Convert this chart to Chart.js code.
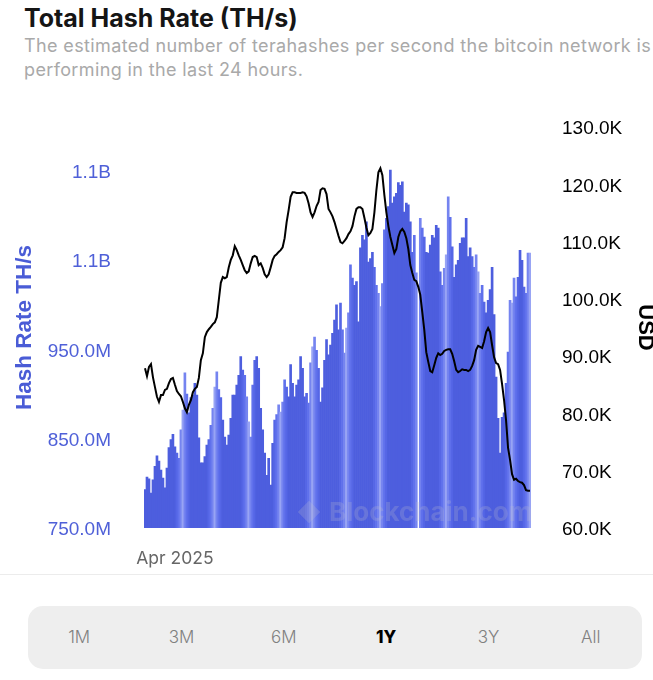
<!DOCTYPE html>
<html lang="en">
  <head>
    <meta charset="UTF-8">
    <title>Total Hash Rate</title>
    <script src="https://cdn.jsdelivr.net/npm/chart.js@4"></script>
    <style>
      html, body { margin: 0; padding: 0; background: #fff; overflow: hidden; }
      body { width: 653px; height: 680px; position: relative; font-family: Inter, sans-serif; }
      h1 { position: absolute; left: 24px; top: 3px; margin: 0; font-size: 25px; line-height: 30px; font-weight: 700; color: #151515; white-space: nowrap; }
      .sub { position: absolute; left: 24px; top: 34px; margin: 0; font-size: 18px; line-height: 24px; letter-spacing: 0.37px; color: #a9a9a9; white-space: nowrap; }
      #wrap { position: absolute; left: 0; top: 100px; width: 653px; height: 470px; }
      .mark { position: absolute; left: 295px; top: 496px; display: flex; align-items: center; font-size: 26px; font-weight: 700; color: rgba(190,190,205,0.24); }
      .rule { position: absolute; left: 0; top: 574px; width: 653px; height: 1px; background: #ececec; }
      .range { position: absolute; left: 28px; top: 606px; width: 614px; height: 63px; border-radius: 15px; background: #eeeeee; display: flex; }
      .range span { flex: 1; text-align: center; line-height: 63px; font-size: 17px; font-weight: 300; color: #808080; }
      .range span.on { color: #000; font-weight: 800; }
    </style>
  </head>
  <body>
    <h1>Total Hash Rate (TH/s)</h1>
    <p class="sub">The estimated number of terahashes per second the bitcoin network is<br>performing in the last 24 hours.</p>
    <div id="wrap"><canvas id="myChart" width="653" height="470"></canvas></div>
    <div class="mark">
      <svg width="28" height="30" viewBox="0 0 30 30" style="margin-right:6px"><path d="M15 3 L27 15 L15 27 L3 15 Z" fill="rgba(190,190,205,0.24)"/></svg>Blockchain.com
    </div>
    <div class="rule"></div>
    <div class="range" id="range"></div>

    <script>
      const hashRate = [
        793,807,805,789,804,819,831,825,815,806,
        795,817,840,849,855,841,834,828,860,882,
        924,900,879,896,899,912,899,851,823,823,
        830,843,849,865,884,908,925,905,896,871,
        852,843,854,873,899,899,910,921,942,927,
        921,897,869,852,910,938,942,929,884,860,
        834,809,828,798,845,871,877,888,880,891,
        916,908,897,933,912,897,910,916,942,929,
        897,901,890,935,953,964,949,929,891,907,
        938,961,944,955,968,983,1000,972,1002,972,
        946,974,991,1045,1030,1022,1026,981,1064,1078,
        1073,1093,1048,1052,1059,1042,1022,1013,998,1024,
        1084,1097,1110,1151,1114,1121,1125,1137,1134,1138,
        1104,1114,1112,1093,1059,1078,1036,null,1097,1086,
        1076,1059,1058,1067,1078,1075,1089,1086,1037,1022,
        1041,1056,1121,1098,1065,1031,1045,1050,1069,1075,
        1075,1097,1054,1064,1054,1042,1056,1037,1013,1022,
        1003,991,1005,1017,1042,989,919,873,834,874,
        879,912,947,1005,1002,1030,1009,1031,1061,1050,
        1020,1013,1058,1058
      ];
      const btcPrice = [
        87.9,86.5,88.1,88.6,86.3,84.6,82.9,82.0,83.2,83.2,
        84.1,84.3,85.3,86.0,86.2,85.0,83.9,83.4,83.0,82.0,
        80.9,80.2,81.5,82.3,83.7,84.3,84.6,86.2,89.3,90.5,
        93.3,94.2,94.7,95.1,95.6,95.9,96.8,99.8,102.8,103.8,
        103.6,103.8,105.5,106.8,107.6,109.2,108.5,107.6,106.8,105.9,
        105.0,104.5,104.8,106.2,107.3,107.5,107.3,105.9,106.2,105.4,
        104.3,103.8,104.3,105.5,106.8,107.5,107.8,108.2,108.5,109.0,
        110.6,113.4,115.5,117.8,118.6,118.6,118.5,118.5,118.5,118.6,
        118.5,117.9,116.7,115.1,114.3,115.1,116.2,116.9,119.0,119.3,
        119.2,118.3,115.7,115.1,114.4,113.4,112.2,111.0,109.9,109.7,
        110.1,110.6,111.3,111.8,112.7,114.4,115.7,116.0,116.0,115.7,
        114.1,112.4,111.1,111.5,112.2,115.1,119.0,122.1,122.8,121.6,
        118.1,115.1,112.7,110.8,109.4,108.0,108.7,110.8,111.8,112.2,
        111.7,110.6,108.7,105.9,104.5,103.3,103.1,102.1,100.7,97.7,
        94.6,90.7,89.0,87.4,87.2,88.4,89.7,90.5,90.2,90.4,
        90.9,91.1,91.2,91.2,90.4,89.1,87.6,87.2,87.4,87.7,
        87.6,87.6,87.4,87.6,88.3,89.3,91.1,91.8,91.6,91.4,
        92.6,94.2,94.9,94.2,91.9,89.8,88.8,88.6,87.6,85.1,
        82.3,78.8,74.0,71.9,69.4,68.4,68.6,68.2,68.0,67.9,
        67.5,66.6,66.5,66.5
      ];
      const hashTicks = [750, 850, 950, 1050, 1150];
      const priceTicks = [60, 70, 80, 90, 100, 110, 120, 130];
      const monthTicks = { 15: 'Apr 2025' };
      // lighter stripes where the bars change month, the bars fade towards them
      const lightBars = [19, 35, 52, 68, 84, 101, 118, 137, 151, 167, 184, 193];
      const fadeColors = ['#98a4f4', '#7584f0', '#6071ec', '#5566e6'];
      const ranges = ['1M', '3M', '6M', '1Y', '3Y', 'All'];
      const activeRange = '1Y';

      const categories = hashRate.map((v, i) => monthTicks[i] || '');
      const barColors = hashRate.map((v, i) => {
        const dist = Math.min(...lightBars.map(b => Math.abs(b - i)));
        return fadeColors[dist] || '#4d5ede';
      });

      ranges.forEach(r => {
        const s = document.createElement('span');
        s.textContent = r;
        if (r === activeRange) s.className = 'on';
        document.getElementById('range').appendChild(s);
      });

      const axisFont = { family: '"Liberation Sans", sans-serif', size: 19 };

      // tick padding also pads the top and bottom of a y axis, take that off again
      function fitY(scale, width) {
        scale.width = width;
        scale.paddingTop = 0;
        scale.paddingBottom = 0;
      }

      const ctx = document.getElementById('myChart').getContext('2d');
      new Chart(ctx, {
        data: {
          labels: categories,
          datasets: [
            {
              type: 'line',
              data: btcPrice,
              yAxisID: 'yPrice',
              borderColor: '#000',
              borderWidth: 2,
              pointRadius: 0,
              tension: 0,
              order: 1
            },
            {
              type: 'bar',
              data: hashRate,
              yAxisID: 'yHash',
              backgroundColor: barColors,
              barPercentage: 1,
              categoryPercentage: 1,
              order: 2
            }
          ]
        },
        options: {
          responsive: false,
          animation: false,
          layout: { padding: { top: 27 } },
          plugins: { legend: { display: false }, tooltip: { enabled: false } },
          scales: {
            x: {
              grid: { display: false, drawTicks: false },
              border: { display: false },
              afterFit: s => { s.height = 42; },
              ticks: { autoSkip: false, maxRotation: 0, padding: 20, color: '#666', font: { family: 'Inter, sans-serif', size: 17.5 } }
            },
            yHash: {
              position: 'left',
              min: 750,
              max: 1199.3,
              grid: { display: false, drawTicks: false },
              border: { display: false },
              afterFit: s => fitY(s, 144),
              afterBuildTicks: s => { s.ticks = hashTicks.map(v => ({ value: v })); },
              ticks: {
                padding: 33,
                labelOffset: 2,
                color: '#4f60d8',
                font: axisFont,
                callback: v => v >= 1000 ? (v / 1000).toFixed(1) + 'B' : v.toFixed(1) + 'M'
              },
              title: { display: true, text: 'Hash Rate TH/s', color: '#4a5cd6', padding: { top: 11, bottom: 0 }, font: { family: axisFont.family, size: 22.5, weight: '700' } }
            },
            yPrice: {
              position: 'right',
              min: 60,
              max: 130,
              grid: { display: false, drawTicks: false },
              border: { display: false },
              afterFit: s => fitY(s, 122),
              afterBuildTicks: s => { s.ticks = priceTicks.map(v => ({ value: v })); },
              ticks: {
                padding: 31,
                labelOffset: 2,
                color: '#000',
                font: axisFont,
                callback: v => v.toFixed(1) + 'K'
              },
              title: { display: true, text: 'USD', color: '#000', padding: { top: 0, bottom: 0 }, font: { family: axisFont.family, size: 22, weight: '700', lineHeight: 0.7 } }
            }
          }
        }
      });
    </script>
  </body>
</html>
